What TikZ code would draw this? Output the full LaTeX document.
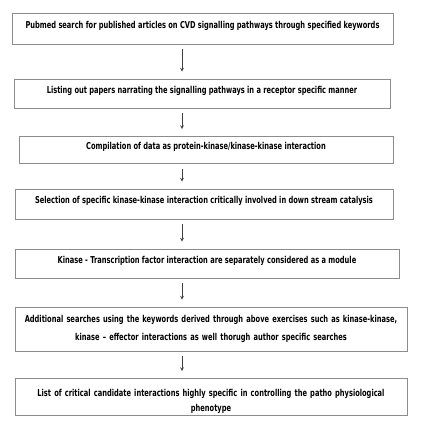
\documentclass[tikz,border=0pt]{standalone}
\usepackage{fontspec}
\setmainfont{DejaVu Sans Condensed}[FakeStretch=0.78]
\usetikzlibrary{arrows}
\tikzstyle{stage} = [rectangle, draw=black!45, line width=0.8pt, text centered, font=\bfseries\fontsize{9.5}{16}\selectfont, inner sep=2pt, text depth=8pt]
\tikzstyle{stageL} = [rectangle, draw=black!45, line width=0.8pt, text width=385pt, align=center, inner sep=2pt]
\tikzstyle{arrow} = [line width=0.7pt, draw=black!75, ->, >=stealth, shorten <=5pt, shorten >=7pt]

\begin{document}
\begin{tikzpicture}[x=1pt, y=-1pt]
\useasboundingbox (0,0) rectangle (421,433);
\coordinate (ax) at (182,0);

\node (pubmed) [stage, minimum width=381pt, minimum height=31pt] at (202.5,28.5) {Pubmed search for published articles on CVD signalling pathways through specified keywords};
\node (listing) [stage, minimum width=376pt, minimum height=29pt] at (202,93.5) {Listing out papers narrating the signalling pathways in a receptor specific manner};
\node (compile) [stage, minimum width=374pt, minimum height=27pt] at (206,150) {Compilation of data as protein-kinase/kinase-kinase interaction};
\node (select) [stage, minimum width=378pt, minimum height=30pt] at (204,204) {Selection of specific kinase-kinase interaction critically involved in down stream catalysis};
\node (module) [stage, minimum width=384pt, minimum height=29pt] at (207,263.5) {Kinase - Transcription factor interaction are separately considered as a module};
\node (additional) [stageL, minimum width=392pt, minimum height=44pt, font=\bfseries\fontsize{9.5}{17.5}\selectfont] at (211,329) {Additional searches using the keywords derived through above exercises such as kinase-kinase,\\ kinase -- effector interactions as well thorugh author specific searches};
\node (critical) [stageL, minimum width=392pt, minimum height=36pt, font=\bfseries\fontsize{9.5}{15}\selectfont] at (211,397) {\rule{0pt}{16pt}List of critical candidate interactions highly specific in controlling the patho physiological\\ phenotype};

\draw [arrow] (pubmed.south -| ax) -- (listing.north -| ax);
\draw [arrow] (listing.south -| ax) -- (compile.north -| ax);
\draw [arrow] (compile.south -| ax) -- (select.north -| ax);
\draw [arrow] (select.south -| ax) -- (module.north -| ax);
\draw [arrow] (module.south -| ax) -- (additional.north -| ax);
\draw [arrow] (additional.south -| ax) -- (critical.north -| ax);

\end{tikzpicture}
\end{document}
